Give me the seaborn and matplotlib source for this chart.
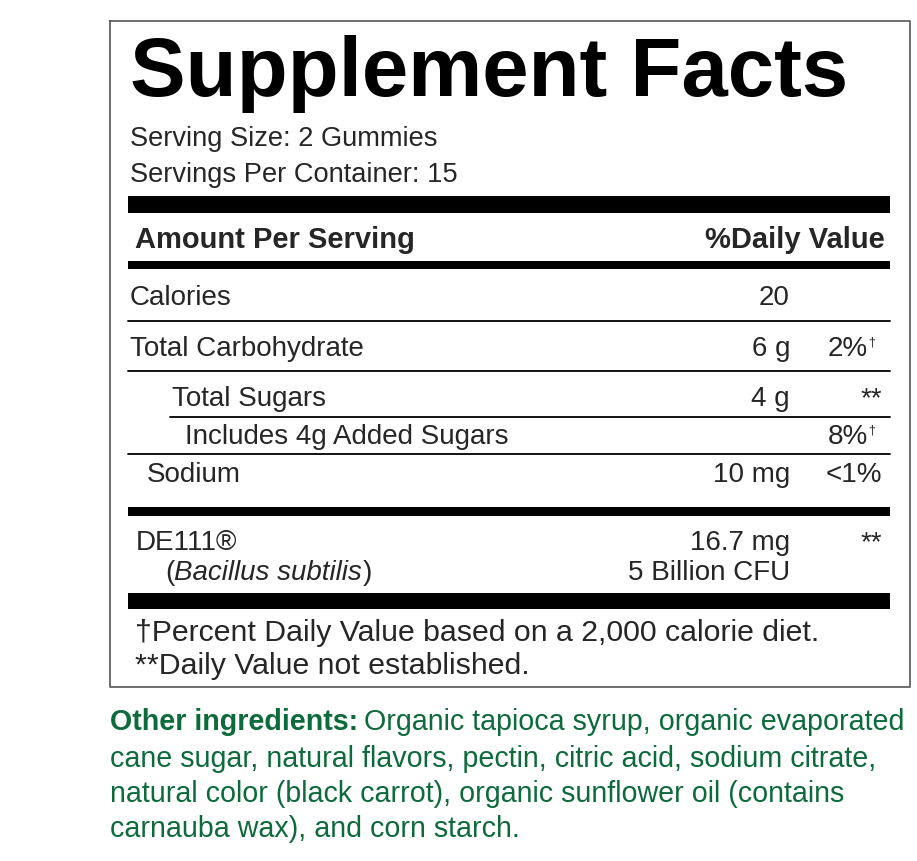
import seaborn as sns
import matplotlib.pyplot as plt

sns.set_theme(style="white")
plt.rcParams['font.family'] = ['Liberation Sans', 'DejaVu Sans']

title = "Supplement Facts"
serving = ["Serving Size: 2 Gummies", "Servings Per Container: 15"]
header = ["Amount Per Serving", "%Daily Value"]
rows = ["Calories", "Total Carbohydrate", "Total Sugars", "Includes 4g Added Sugars", "Sodium"]
row_indent = [0, 0, 42, 55, 17]
amounts = ["20", "6 g", "4 g", "", "10 mg"]
dvs = ["", "2%\u2020", "**", "8%\u2020", "<1%"]
row_y = [297, 348, 398, 436, 474]
footnotes = ["\u2020Percent Daily Value based on a 2,000 calorie diet.", "**Daily Value not established."]
ingredients = ["Organic tapioca syrup, organic evaporated",
               "cane sugar, natural flavors, pectin, citric acid, sodium citrate,",
               "natural color (black carrot), organic sunflower oil (contains",
               "carnauba wax), and corn starch."]
green = "#0d6b3b"
fs = 20

fig = plt.figure(figsize=(9.17, 8.62), dpi=100)
ax = fig.add_axes([0, 0, 1, 1])
ax.set_xlim(0, 917)
ax.set_ylim(862, 0)
ax.axis('off')
renderer = fig.canvas.get_renderer()

def right_edge(t):
    bb = t.get_window_extent(renderer=renderer)
    return ax.transData.inverted().transform((bb.x1, bb.y0))[0]

ax.plot([110, 910, 910, 110, 110], [22, 22, 688, 688, 22], color='#555555', lw=1.2)

ax.text(130, 96, title, fontsize=60, fontweight='bold', va='baseline', color='black')
ax.text(130, 146, serving[0], fontsize=19.6, va='baseline')
ax.text(130, 182, serving[1], fontsize=19.6, va='baseline')

def bar(y0, y1):
    ax.fill_between([128, 890], y0, y1, color='black', lw=0)

def line(y, x0=128):
    ax.plot([x0, 890], [y, y], color='black', lw=1.3)

bar(197, 214)
ax.text(135, 248, header[0], fontsize=21, fontweight='bold', va='baseline')
ax.text(885, 248, header[1], fontsize=21, fontweight='bold', va='baseline', ha='right')
bar(262, 270)
for y in [322, 372, 455]:
    line(y)
line(418, 170)

for name, ind, amt, dv, y in zip(rows, row_indent, amounts, dvs, row_y):
    ax.text(130 + ind, y + 8, name, fontsize=fs, va='baseline')
    ax.text(790, y + 8, amt, fontsize=fs, va='baseline', ha='right')
    if dv.endswith('\u2020'):
        ax.text(868, y + 8, dv[:-1], fontsize=fs, va='baseline', ha='right')
        ax.text(868, y - 2, '\u2020', fontsize=9, va='baseline', ha='left')
    else:
        ax.text(882, y + 8, dv, fontsize=fs, va='baseline', ha='right')

bar(508, 517)
ax.text(136, 550, "DE111\u00ae", fontsize=fs, va='baseline')
t = ax.text(165, 580, "(", fontsize=fs, va='baseline')
t = ax.text(right_edge(t), 580, "Bacillus subtilis", fontsize=fs, style='italic', va='baseline')
ax.text(right_edge(t) + 1, 580, ")", fontsize=fs, va='baseline')
ax.text(790, 550, "16.7 mg", fontsize=fs, va='baseline', ha='right')
ax.text(790, 580, "5 Billion CFU", fontsize=fs, va='baseline', ha='right')
ax.text(882, 550, "**", fontsize=fs, va='baseline', ha='right')
bar(594, 610)

ax.text(135, 641, footnotes[0], fontsize=21.8, va='baseline')
ax.text(135, 674, footnotes[1], fontsize=21.8, va='baseline')

t = ax.text(110, 730, "Other ingredients:", fontsize=20.6, fontweight='bold', color=green, va='baseline')
ax.text(right_edge(t) + 6, 730, ingredients[0], fontsize=20.6, color=green, va='baseline')
for i, s in enumerate(ingredients[1:]):
    ax.text(110, 767 + 35 * i, s, fontsize=20.6, color=green, va='baseline')

fig.savefig("out.png", dpi=100)
